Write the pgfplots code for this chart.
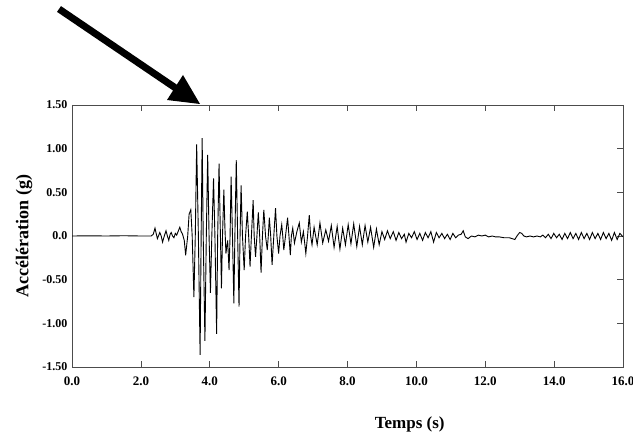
\documentclass[border=0pt]{standalone}
\usepackage{fontspec}
\setmainfont{Liberation Serif}
\usepackage{pgfplots}
\pgfplotsset{compat=1.18}
\begin{document}
\begin{tikzpicture}
\useasboundingbox (0,0) rectangle (633bp,436bp);
% annotation arrow
\draw[line width=7bp] (59bp,427bp) -- (177bp,347bp);
\fill (200bp,332bp) -- (167bp,336bp) -- (183bp,361bp) -- cycle;
\begin{axis}[
  at={(72bp,69bp)}, anchor=south west,
  scale only axis, width=551bp, height=262bp,
  xmin=0, xmax=16, ymin=-1.5, ymax=1.5,
  xtick={0,2,...,16},
  xticklabels={0.0,2.0,4.0,6.0,8.0,10.0,12.0,14.0,16.0},
  ytick={-1.5,-1,-0.5,0,0.5,1,1.5},
  yticklabels={-1.50,-1.00,-0.50,0.0,0.50,1.00,1.50},
  tick align=inside,
  xtick pos=both,
  ytick pos=right, yticklabel pos=left,
  major tick length=6bp,
  tick style={black!70, line width=0.6bp},
  axis line style={black!70, line width=0.8bp},
  xticklabel style={font=\fontsize{13bp}{14bp}\selectfont\bfseries, yshift=-6bp},
  yticklabel style={font=\fontsize{12bp}{13bp}\selectfont\bfseries, xshift=-1bp},
  xlabel={Temps (s)},
  ylabel={Accélération (g)},
  every axis x label/.style={at={(axis description cs:0.613,-0.218)}, anchor=center, font=\fontsize{17bp}{18bp}\selectfont\bfseries},
  every axis y label/.style={at={(axis description cs:-0.087,0.5)}, anchor=center, rotate=90, font=\fontsize{18bp}{19bp}\selectfont\bfseries},
]
\addplot[black, line width=0.9bp] table {
t a
0.00 0.00
0.50 0.002
1.00 0.00
1.50 0.003
2.00 0.00
2.30 0.00
2.36 0.02
2.41 0.09
2.45 0.02
2.48 -0.03
2.55 0.04
2.59 0.00
2.63 -0.07
2.68 0.00
2.73 0.06
2.77 0.00
2.81 -0.05
2.85 0.02
2.88 0.04
2.92 0.00
2.96 -0.02
3.00 0.03
3.04 0.01
3.09 0.06
3.13 0.10
3.17 0.05
3.21 0.02
3.26 -0.05
3.30 -0.22
3.36 0.00
3.40 0.25
3.45 0.30
3.49 0.00
3.54 -0.70
3.58 0.00
3.62 1.05
3.67 0.00
3.72 -1.36
3.75 0.00
3.78 1.12
3.81 0.00
3.86 -1.20
3.90 0.00
3.94 0.93
3.98 0.00
4.02 -0.65
4.06 0.00
4.11 0.66
4.15 0.00
4.20 -1.12
4.23 0.00
4.27 0.83
4.31 0.00
4.34 -0.60
4.37 0.00
4.41 0.53
4.44 0.10
4.47 -0.20
4.52 -0.05
4.56 -0.39
4.59 0.00
4.62 0.68
4.66 0.00
4.70 -0.77
4.73 0.00
4.77 0.87
4.81 0.00
4.85 -0.81
4.88 0.00
4.91 0.58
4.95 0.00
5.00 -0.39
5.04 0.00
5.09 0.28
5.13 0.00
5.17 -0.35
5.21 0.00
5.26 0.41
5.29 0.00
5.33 -0.24
5.37 0.00
5.41 0.27
5.45 0.00
5.49 -0.42
5.53 0.00
5.57 0.30
5.62 0.00
5.67 -0.16
5.70 0.00
5.73 0.21
5.77 0.00
5.81 -0.33
5.86 0.00
5.91 0.32
5.95 0.00
6.00 -0.20
6.04 0.00
6.09 0.13
6.12 0.00
6.15 -0.16
6.20 0.00
6.26 0.21
6.30 0.00
6.34 -0.22
6.37 0.00
6.41 0.09
6.46 -0.08
6.53 0.05
6.60 0.15
6.66 -0.07
6.72 0.05
6.79 -0.20
6.84 0.00
6.89 0.24
6.93 0.00
6.97 -0.10
7.03 0.10
7.12 -0.10
7.20 0.15
7.28 -0.08
7.37 0.07
7.45 -0.06
7.53 0.12
7.61 -0.13
7.70 0.11
7.78 -0.15
7.86 0.09
7.94 -0.10
8.02 0.13
8.10 -0.09
8.18 0.14
8.27 -0.12
8.35 0.11
8.43 -0.10
8.51 0.12
8.59 -0.07
8.67 0.10
8.76 -0.13
8.84 0.08
8.92 -0.10
9.00 0.05
9.08 -0.04
9.16 0.06
9.24 -0.03
9.33 0.05
9.41 -0.05
9.49 0.04
9.57 -0.03
9.65 0.02
9.70 -0.07
9.78 0.03
9.86 -0.02
9.94 0.05
10.02 -0.04
10.10 0.03
10.18 -0.05
10.26 0.04
10.34 -0.02
10.42 0.05
10.50 -0.07
10.58 0.04
10.66 -0.02
10.74 0.03
10.82 -0.03
10.90 0.02
10.98 -0.04
11.06 0.03
11.14 -0.02
11.22 0.01
11.30 0.02
11.36 0.06
11.42 -0.01
11.50 -0.03
11.60 0.00
11.70 -0.01
11.80 0.01
11.90 0.00
12.00 0.01
12.10 -0.01
12.20 0.00
12.30 -0.01
12.40 -0.01
12.55 -0.02
12.70 -0.02
12.86 -0.04
12.92 0.00
13.00 0.04
13.06 0.03
13.12 0.00
13.20 -0.01
13.30 0.00
13.40 -0.01
13.50 0.00
13.60 -0.01
13.67 0.01
13.75 -0.02
13.83 0.02
13.91 -0.03
13.99 0.03
14.07 -0.02
14.15 0.02
14.23 -0.04
14.31 0.03
14.39 -0.03
14.47 0.04
14.55 -0.03
14.63 0.03
14.71 -0.04
14.79 0.04
14.87 -0.03
14.95 0.03
15.03 -0.04
15.11 0.04
15.19 -0.03
15.27 0.03
15.35 -0.04
15.43 0.04
15.51 -0.03
15.59 0.03
15.67 -0.05
15.75 0.04
15.83 -0.04
15.91 0.03
16.00 -0.01
};
\end{axis}
\end{tikzpicture}
\end{document}
